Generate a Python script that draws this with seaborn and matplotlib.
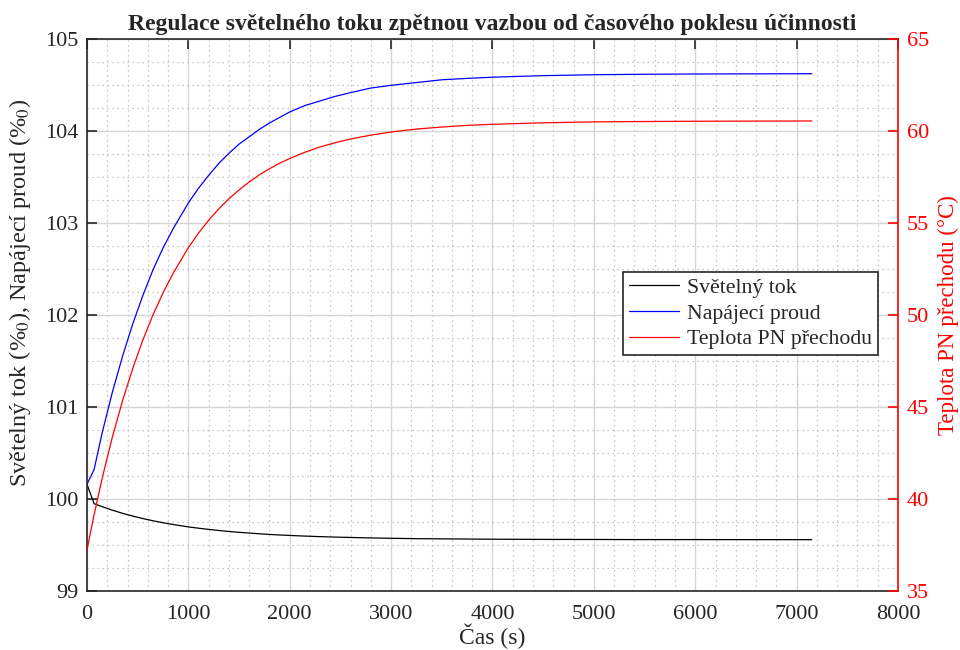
import matplotlib
matplotlib.use('Agg')
import matplotlib.pyplot as plt
import pandas as pd
import seaborn as sns
from matplotlib.ticker import MultipleLocator


# data
cas = [0, 70, 150, 250, 350, 450, 550, 650, 750, 850, 1000, 1100, 1200, 1300, 1400,
       1500, 1600, 1700, 1800, 1900, 2000, 2150, 2300, 2450, 2600, 2800, 3000, 3250,
       3500, 3750, 4000, 4500, 5000, 5500, 6000, 7150]
svetelny_tok = [100.16, 99.95, 99.917, 99.879, 99.845, 99.815, 99.788, 99.764, 99.742,
                99.723, 99.697, 99.683, 99.670, 99.658, 99.647, 99.638, 99.630, 99.622,
                99.615, 99.609, 99.604, 99.597, 99.591, 99.586, 99.582, 99.577, 99.573,
                99.569, 99.567, 99.565, 99.563, 99.561, 99.560, 99.559, 99.559, 99.558]
napajeci_proud = [100.16, 100.32, 100.72, 101.16, 101.55, 101.90, 102.21, 102.49, 102.73,
                  102.94, 103.22, 103.38, 103.52, 103.65, 103.76, 103.86, 103.94, 104.02,
                  104.09, 104.15, 104.21, 104.28, 104.33, 104.38, 104.42, 104.47, 104.50,
                  104.53, 104.56, 104.575, 104.588, 104.605, 104.615, 104.62, 104.623, 104.626]
teplota_pn = [37.23, 39.14, 41.13, 43.36, 45.33, 47.08, 48.63, 50.00, 51.21, 52.28, 53.67,
              54.46, 55.16, 55.78, 56.33, 56.81, 57.24, 57.63, 57.96, 58.26, 58.52, 58.86,
              59.15, 59.38, 59.58, 59.79, 59.96, 60.12, 60.23, 60.32, 60.38, 60.46, 60.51,
              60.53, 60.545, 60.56]

df = pd.DataFrame({'cas': cas, 'tok': svetelny_tok, 'proud': napajeci_proud, 'teplota': teplota_pn})

sns.set_style('white')
plt.rcParams['font.family'] = ['Liberation Serif', 'DejaVu Serif']
plt.rcParams['mathtext.fontset'] = 'stix'

fig = plt.figure(figsize=(9.6, 6.5), dpi=100)
ax = fig.add_axes([0.0906, 0.0908, 0.8448, 0.8487])
ax2 = ax.twinx()

sns.lineplot(data=df, x='cas', y='tok', ax=ax, color='black', linewidth=0.9, label='Světelný tok', legend=False)
sns.lineplot(data=df, x='cas', y='proud', ax=ax, color='#0000ff', linewidth=0.9, label='Napájecí proud', legend=False)
sns.lineplot(data=df, x='cas', y='teplota', ax=ax2, color='#ff0000', linewidth=0.9, label='Teplota PN přechodu', legend=False)

# axes limits and ticks
ax.set_xlim(0, 8000)
ax.set_ylim(99, 105)
ax2.set_ylim(35, 65)
ax.xaxis.set_major_locator(MultipleLocator(1000))
ax.xaxis.set_minor_locator(MultipleLocator(200))
ax.yaxis.set_major_locator(MultipleLocator(1))
ax.yaxis.set_minor_locator(MultipleLocator(0.25))
ax2.yaxis.set_major_locator(MultipleLocator(5))

# grid (matlab like)
ax.grid(True, which='major', color='#d6d6d6', linewidth=1.0, linestyle='-')
ax.grid(True, which='minor', color='#b5b5b5', linewidth=0.9, linestyle=(0, (1, 3)))
ax.set_axisbelow(True)

ax.tick_params(axis='both', which='major', direction='in', length=7, width=1.2,
               labelsize=16, colors='#262626', top=True, right=False, pad=6)
ax.tick_params(axis='x', which='major', pad=10)
ax.tick_params(axis='both', which='minor', length=0)
ax2.tick_params(axis='y', which='major', direction='in', length=7, width=1.2,
                labelsize=16, colors='#ff0000', pad=6.5)

for s in ['left', 'top', 'bottom']:
    ax.spines[s].set_color('#262626')
    ax.spines[s].set_linewidth(1.2)
ax.spines['right'].set_visible(False)
for s in ['left', 'top', 'bottom']:
    ax2.spines[s].set_visible(False)
ax2.spines['right'].set_color('#ff0000')
ax2.spines['right'].set_linewidth(1.2)

ax.set_xlabel('Čas (s)', fontsize=17, color='#262626', labelpad=0)
ax.set_ylabel('Světelný tok (%$_0$), Napájecí proud (%$_0$)', fontsize=17.5, color='#262626')
ax.yaxis.set_label_coords(-0.066, 0.54)
ax2.set_ylabel('Teplota PN přechodu (°C)', fontsize=16.5, color='#ff0000', labelpad=6)
ax.set_title('Regulace světelného toku zpětnou vazbou od časového poklesu účinnosti',
             fontsize=17, fontweight='bold', pad=7)

# legend with lines from both axes
h1, l1 = ax.get_legend_handles_labels()
h2, l2 = ax2.get_legend_handles_labels()
leg = ax2.legend(h1 + h2, l1 + l2, loc='upper left', bbox_to_anchor=(0.661, 0.578),
                 borderaxespad=0, fontsize=15.7, frameon=True, fancybox=False,
                 edgecolor='#262626', framealpha=1, handlelength=2.3, handletextpad=0.4,
                 labelspacing=0.25, borderpad=0.25)
leg.get_frame().set_linewidth(1.2)

fig.savefig('out.png', dpi=100)
